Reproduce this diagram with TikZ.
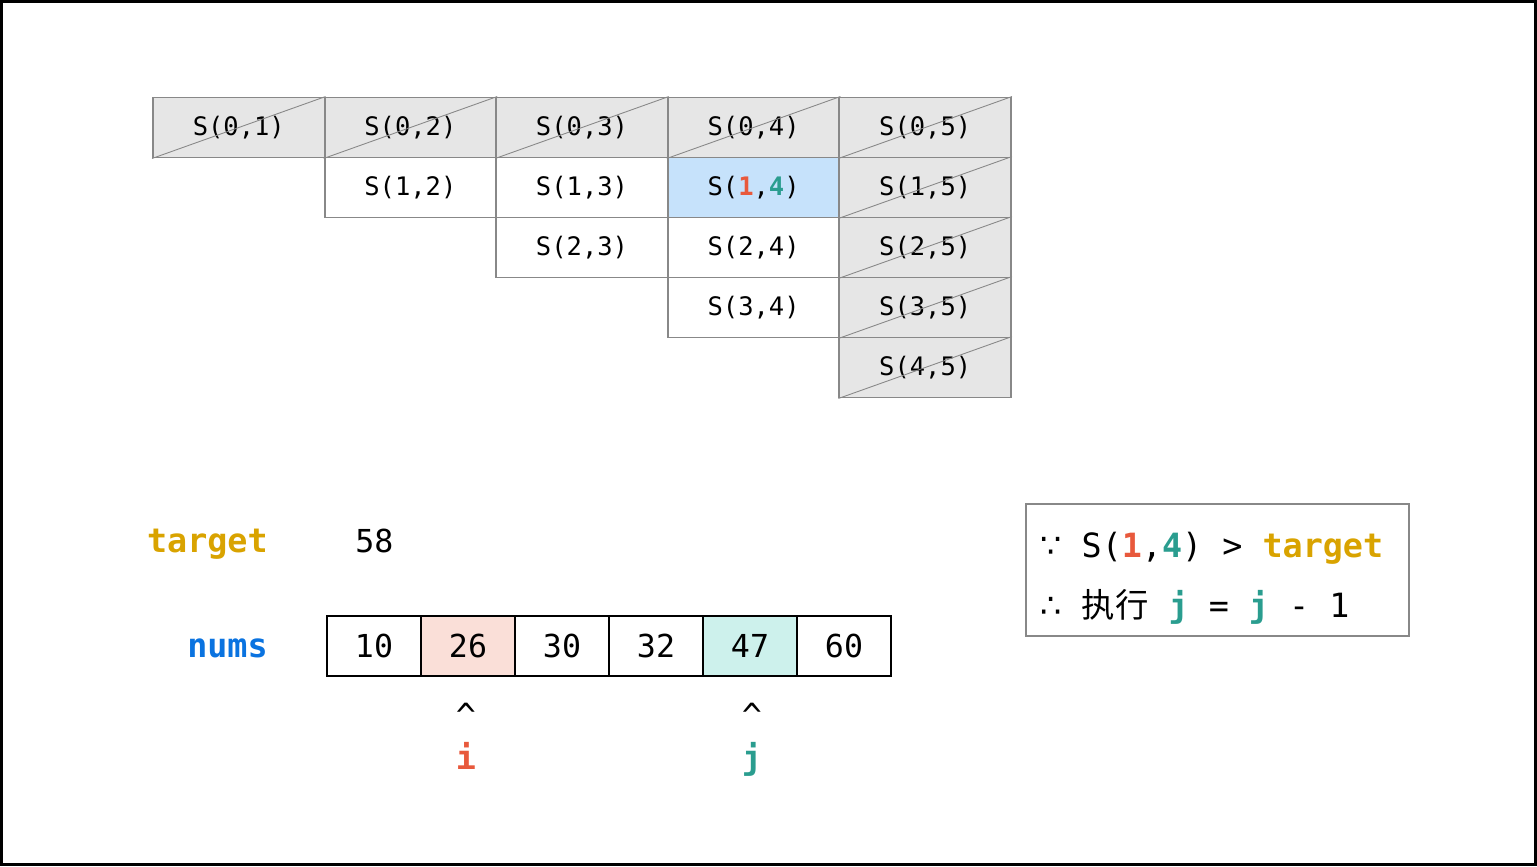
\documentclass[tikz,border=0pt]{standalone}
\usepackage{fontspec}
\usepackage{xcolor}
\usepackage{tikz}
\setmonofont{DejaVu Sans Mono}
\newfontfamily\cjk{Noto Sans CJK SC}
\newfontfamily\symb{DejaVu Sans}
\definecolor{cellline}{RGB}{136,136,136}
\definecolor{cellgray}{RGB}{230,230,230}
\definecolor{cellblue}{RGB}{198,226,251}
\definecolor{ipink}{RGB}{250,223,216}
\definecolor{jmint}{RGB}{205,241,236}
\definecolor{icolor}{RGB}{232,89,60}
\definecolor{jcolor}{RGB}{42,157,143}
\definecolor{tcolor}{RGB}{217,163,0}
\definecolor{ncolor}{RGB}{10,115,224}

\begin{document}
\begin{tikzpicture}[x=0.02cm, y=-0.02cm,
  cell/.style={rectangle, draw=cellline, line width=1.1pt, minimum width=3.432cm, minimum height=1.2cm, inner sep=0pt, font=\ttfamily\fontsize{14.5}{17}\selectfont},
  skip/.style={cell, fill=cellgray},
  arr/.style={rectangle, draw=black, line width=1.3pt, minimum width=1.88cm, minimum height=1.2cm, inner sep=0pt, font=\ttfamily\fontsize{18}{21}\selectfont},
  lbl/.style={font=\ttfamily\bfseries\fontsize{19}{22}\selectfont, inner sep=0pt},
  txt/.style={font=\ttfamily\fontsize{19}{22}\selectfont, inner sep=0pt}]
\useasboundingbox (0,0) rectangle (1537,866);
\draw[line width=0.06cm] (1.5,1.5) rectangle (1535.5,864.5);

% search space table
\node[cell] (s12) at (410.4,187.5) {S(1,2)};
\node[cell] (s13) at (582,187.5) {S(1,3)};
\node[cell, fill=cellblue] (s14) at (753.6,187.5) {S(\textcolor{icolor}{\bfseries 1},\textcolor{jcolor}{\bfseries 4})};
\node[cell] (s23) at (582,247.5) {S(2,3)};
\node[cell] (s24) at (753.6,247.5) {S(2,4)};
\node[cell] (s34) at (753.6,307.5) {S(3,4)};

\node[skip] (s01) at (238.8,127.5) {S(0,1)};
\node[skip] (s02) at (410.4,127.5) {S(0,2)};
\node[skip] (s03) at (582,127.5) {S(0,3)};
\node[skip] (s04) at (753.6,127.5) {S(0,4)};
\node[skip] (s05) at (925.2,127.5) {S(0,5)};
\node[skip] (s15) at (925.2,187.5) {S(1,5)};
\node[skip] (s25) at (925.2,247.5) {S(2,5)};
\node[skip] (s35) at (925.2,307.5) {S(3,5)};
\node[skip] (s45) at (925.2,367.5) {S(4,5)};

\foreach \c in {s01,s02,s03,s04,s05,s15,s25,s35,s45}
  \draw[cellline, line width=0.5pt] (\c.south west) -- (\c.north east);

% target and nums
\node[lbl, text=tcolor, anchor=base east] (target) at (268,552) {target};
\node[txt, anchor=base west, font=\ttfamily\fontsize{18}{21}\selectfont] (tval) at (355,552) {58};
\node[lbl, text=ncolor, anchor=base east] (nums) at (268,657) {nums};

\node[arr] (n0) at (374,646) {10};
\node[arr, fill=ipink] (n1) at (468,646) {26};
\node[arr] (n2) at (562,646) {30};
\node[arr] (n3) at (656,646) {32};
\node[arr, fill=jmint] (n4) at (750,646) {47};
\node[arr] (n5) at (844,646) {60};

\node[txt, anchor=base] (icaret) at (466,727) {\^{}};
\node[lbl, text=icolor, anchor=base] (ilbl) at (466,769) {i};
\node[txt, anchor=base] (jcaret) at (752,727) {\^{}};
\node[lbl, text=jcolor, anchor=base] (jlbl) at (752,769) {j};

% reasoning box
\node[rectangle, draw=cellline, line width=1.1pt, minimum width=7.66cm, minimum height=2.64cm] (why) at (1217.5,570) {};
\node[txt, anchor=base west] (because) at (1040,557) {{\symb ∵} S(\textcolor{icolor}{\bfseries 1},\textcolor{jcolor}{\bfseries 4}) > \textcolor{tcolor}{\bfseries target}};
\node[txt, anchor=base west] (hence) at (1040,617) {{\symb ∴} {\cjk 执行} \textcolor{jcolor}{\bfseries j} = \textcolor{jcolor}{\bfseries j} - 1};
\end{tikzpicture}
\end{document}
